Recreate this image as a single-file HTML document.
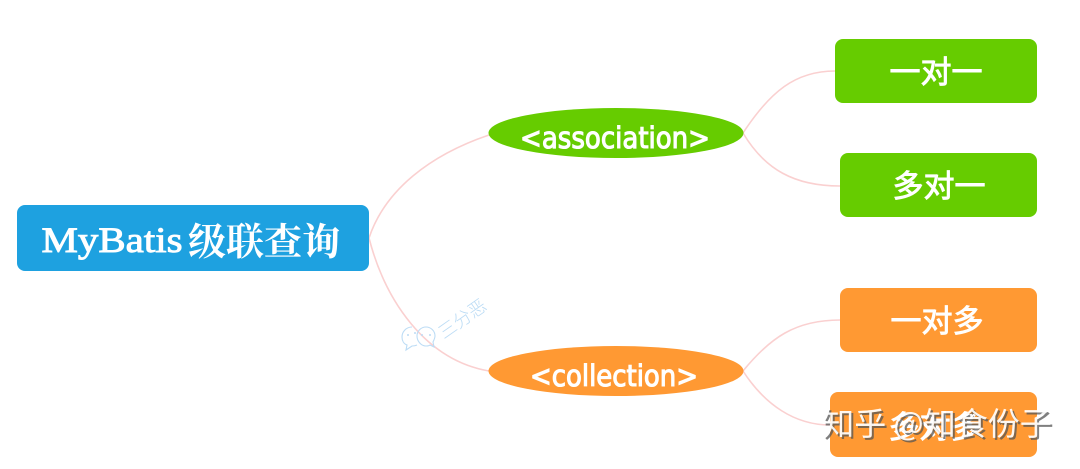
<!DOCTYPE html>
<html>
<head>
<meta charset="utf-8">
<style>
html,body{margin:0;padding:0;background:#fff;width:1080px;height:469px;overflow:hidden}
svg{display:block}
.t{fill:#fff;text-anchor:middle}
.s{font-family:"Liberation Serif",serif;font-weight:normal;stroke:#fff;stroke-width:.9}
.z{font-family:"Noto Serif CJK SC",serif;font-weight:bold}
.k{font-family:"WenQuanYi Zen Hei","Noto Sans CJK SC",sans-serif;font-weight:normal;stroke:#fff;stroke-width:.9}
.c{font-family:"DejaVu Sans","Liberation Sans",sans-serif;font-weight:normal;stroke:#fff;stroke-width:1.1}
</style>
</head>
<body>
<svg width="1080" height="469" viewBox="0 0 1080 469" xmlns="http://www.w3.org/2000/svg">
<g fill="none" stroke="#fad0d0" stroke-width="1.6">
<path d="M369 238C385 190 430 155 489 135"/>
<path d="M369 238C385 300 425 360 489 371"/>
<path d="M743 133C770 92 795 71 835 71"/>
<path d="M743 133C765 170 795 186 840 186"/>
<path d="M743 371C770 338 795 320 840 320"/>
<path d="M743 371C765 405 795 425 830 425"/>
</g>
<g fill="none" stroke="#bcdcf5" stroke-width="1.1">
<path d="M412 327c-6 0-10 5-10 10 0 4 2 7 5 8l-1 5 6-4c2 0 3 0 5-1"/>
<path d="M426 327c-5 0-9 4-9 9s4 10 9 10c1 0 3 0 4-1l4 2-1-5c1-2 2-4 2-6 0-5-4-9-9-9z"/>
</g>
<g fill="#bcdcf5"><circle cx="408" cy="335" r="1"/><circle cx="415" cy="333" r="1"/><circle cx="422" cy="335" r="1"/><circle cx="430" cy="335" r="1"/></g>
<text x="466" y="324" transform="rotate(-35 466 324)" text-anchor="middle" font-size="18" fill="#bcdcf5" font-family="'Noto Sans CJK SC',sans-serif" font-weight="300">三分恶</text>
<rect x="17" y="205" width="352" height="66" rx="8" fill="#1ea1e0"/>
<ellipse cx="616" cy="133" rx="127.500" ry="25" fill="#66cc00"/>
<ellipse cx="616" cy="371" rx="127.500" ry="25" fill="#ff9933"/>
<rect x="835" y="39" width="202" height="64" rx="8" fill="#66cc00"/>
<rect x="840" y="153" width="197" height="64" rx="8" fill="#66cc00"/>
<rect x="840" y="288" width="197" height="64" rx="8" fill="#ff9933"/>
<rect x="830" y="392" width="207" height="65" rx="8" fill="#ff9933"/>
<text class="t s" x="112" y="252" font-size="36" textLength="141" lengthAdjust="spacingAndGlyphs">MyBatis</text>
<text class="t z" x="264" y="255" font-size="38">级联查询</text>
<text class="t c" x="615" y="148" font-size="29" textLength="190" lengthAdjust="spacingAndGlyphs">&lt;association&gt;</text>
<text class="t c" x="614" y="386" font-size="29" textLength="168" lengthAdjust="spacingAndGlyphs">&lt;collection&gt;</text>
<text class="t k" x="936" y="83" font-size="31">一对一</text>
<text class="t k" x="939" y="197" font-size="31">多对一</text>
<text class="t k" x="937" y="332" font-size="31">一对多</text>
<text class="t k" x="935" y="438" font-size="31">多对多</text>
<text x="939" y="437" text-anchor="middle" font-size="32" fill="#555" opacity=".75" font-family="'Noto Sans CJK SC',sans-serif">知乎 @知食份子</text>
<text x="937" y="435" text-anchor="middle" font-size="32" fill="#fff" opacity=".92" font-family="'Noto Sans CJK SC',sans-serif">知乎 @知食份子</text>
</svg>
</body>
</html>
